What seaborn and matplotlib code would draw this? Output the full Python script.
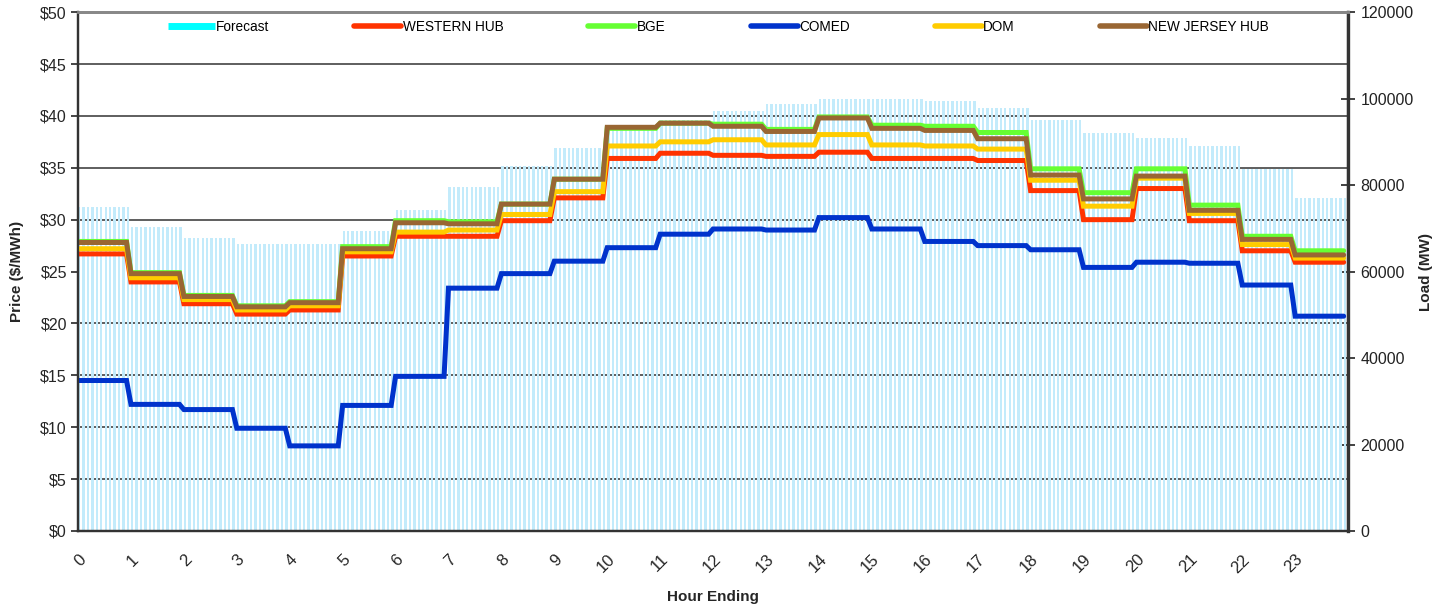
import numpy as np
import pandas as pd
import seaborn as sns
import matplotlib.pyplot as plt
from matplotlib.lines import Line2D

# hourly values (hour 0..23)
hours = list(range(24))
forecast_mw = [74900, 70300, 67700, 66400, 66400, 69400, 74200, 79500, 84400, 88600,
               93400, 95000, 97100, 98700, 99900, 99900, 99400, 97800, 95000, 92000,
               90900, 89000, 83700, 77000]
western_hub = [26.7, 24.0, 21.9, 20.9, 21.3, 26.5, 28.4, 28.4, 29.9, 32.1, 35.9, 36.4,
               36.2, 36.1, 36.5, 35.9, 35.9, 35.7, 32.8, 30.0, 33.0, 29.9, 27.0, 25.9]
bge = [27.9, 24.9, 22.7, 21.7, 22.1, 27.4, 29.9, 29.8, 31.5, 33.9, 38.8, 39.3,
       39.2, 38.7, 39.9, 39.1, 39.0, 38.4, 34.9, 32.6, 34.9, 31.4, 28.4, 27.0]
comed = [14.5, 12.2, 11.7, 9.9, 8.2, 12.1, 14.9, 23.4, 24.8, 26.0, 27.3, 28.6,
         29.1, 29.0, 30.2, 29.1, 27.9, 27.5, 27.1, 25.4, 25.9, 25.8, 23.7, 20.7]
dom = [27.2, 24.4, 22.3, 21.3, 21.7, 26.9, 28.8, 29.0, 30.5, 32.7, 37.1, 37.5,
       37.7, 37.2, 38.2, 37.2, 37.1, 36.8, 33.8, 31.3, 34.0, 30.6, 27.6, 26.3]
nj_hub = [27.8, 24.8, 22.6, 21.6, 22.0, 27.2, 29.7, 29.6, 31.5, 33.9, 38.9, 39.3,
          39.0, 38.5, 39.8, 38.8, 38.6, 37.8, 34.3, 32.0, 34.2, 30.9, 28.1, 26.6]

hubs = {'WESTERN HUB': western_hub, 'BGE': bge, 'COMED': comed,
        'DOM': dom, 'NEW JERSEY HUB': nj_hub}
colors = {'WESTERN HUB': '#ff3300', 'BGE': '#66ff33', 'COMED': '#0033cc',
          'DOM': '#ffcc00', 'NEW JERSEY HUB': '#996633'}

# 5-minute intervals, each hour's value held for 12 intervals
steps = 12
t = np.arange(24 * steps) / steps
frames = []
for name, vals in hubs.items():
    frames.append(pd.DataFrame({'t': t, 'price': np.repeat(vals, steps), 'hub': name}))
df = pd.concat(frames, ignore_index=True)
load = np.repeat(forecast_mw, steps)

sns.set_style('white')
plt.rcParams['font.family'] = ['Liberation Sans', 'DejaVu Sans']

fig, ax = plt.subplots(figsize=(14.48, 6.06), dpi=100)
fig.subplots_adjust(left=0.0539, right=0.931, top=0.980, bottom=0.1238)
ax2 = ax.twinx()

# load bars on the secondary axis, drawn underneath
ax2.bar(t, load, width=0.045, align='edge', color='#c3ebfb', linewidth=0, zorder=2)
ax2.set_ylim(0, 120000)
ax2.set_yticks(range(0, 120001, 20000))
ax2.set_yticks(np.arange(0, 120001, 12000), minor=True)
ax2.grid(which='minor', axis='y', color='#333333', linewidth=1.1, zorder=1)
ax2.grid(which='major', axis='y', visible=False)
ax2.set_axisbelow(True)
ax2.tick_params(axis='y', which='major', direction='inout', length=10, width=1.2,
                labelsize=11.5, colors='#222222', pad=4)
ax2.tick_params(axis='y', which='minor', length=0)
ax2.set_ylabel('Load (MW)', fontsize=11, fontweight='bold', labelpad=4)

ax.set_zorder(ax2.get_zorder() + 1)
ax.patch.set_visible(False)

sns.lineplot(data=df, x='t', y='price', hue='hub', hue_order=list(hubs),
             palette=colors, linewidth=3.6, estimator=None, errorbar=None,
             legend=False, ax=ax)
for ln in ax.get_lines():
    ln.set_solid_joinstyle('miter')

ax.set_xlim(0, 24)
ax.set_ylim(0, 50)
ax.set_yticks(range(0, 51, 5))
ax.set_yticklabels([f'${v}' for v in range(0, 51, 5)])
ax.set_xticks(hours)
ax.set_xticklabels([str(h) for h in hours], rotation=45, ha='right', va='top',
                   rotation_mode='anchor')
ax.tick_params(axis='y', direction='out', length=5, width=1.2, labelsize=11.5, pad=3)
ax.tick_params(axis='x', direction='out', length=5, width=1.2, labelsize=12, pad=10)
ax.set_xlabel('Hour Ending', fontsize=11, fontweight='bold', labelpad=10)
ax.set_ylabel('Price ($/MWh)', fontsize=11, fontweight='bold', labelpad=12)

for a in (ax, ax2):
    a.spines['top'].set_color('#888888')
    a.spines['top'].set_linewidth(2)
    for s in ('left', 'right', 'bottom'):
        a.spines[s].set_color('#333333')
        a.spines[s].set_linewidth(1.6)
ax2.spines['right'].set_linewidth(2.4)

handles = [Line2D([0], [0], color='#00ffff', linewidth=5, solid_capstyle='butt')]
handles += [Line2D([0], [0], color=colors[n], linewidth=4, solid_capstyle='round')
            for n in hubs]
labels = ['Forecast'] + list(hubs)
ax.legend(handles, labels, loc='center', bbox_to_anchor=(0.504, 0.972), ncol=6,
          frameon=False, fontsize=9.8, handlelength=3.45, handletextpad=0.1,
          columnspacing=6.25, borderpad=0, borderaxespad=0, labelcolor='black')

fig.savefig('out.png', dpi=100)
